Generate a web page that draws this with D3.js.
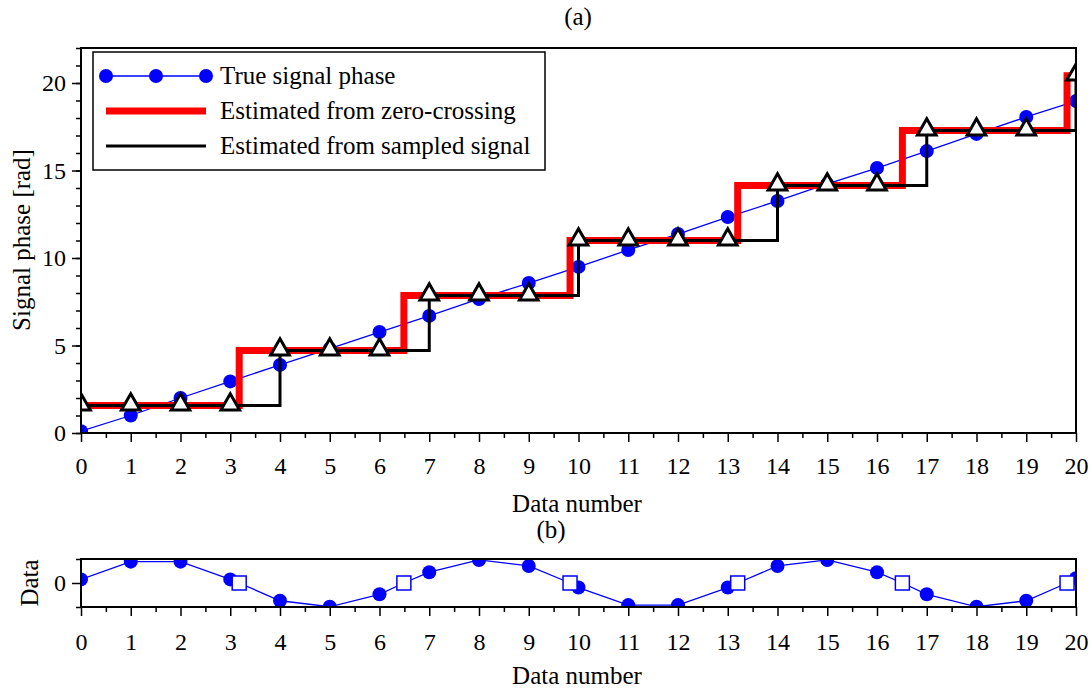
<!DOCTYPE html>
<html>
<head>
<meta charset="utf-8">
<script src="https://cdn.jsdelivr.net/npm/d3@7"></script>
<style>
  body { margin: 0; background: #fff; }
  svg { font-family: "Liberation Serif", "Times New Roman", serif; }
  .axis path { display: none; }
  .axis line { stroke: #000; stroke-width: 1.5; }
  .axis text { font-size: 24px; fill: #000; }
</style>
</head>
<body>
<div id="chart"></div>
<script>
// sample index (x axis of both panels)
var dataNumber = d3.range(0, 21);
// (a) true phase at every sample, rad
var truePhase = [0.1, 1.0, 2.0, 2.95, 3.89, 4.82, 5.77, 6.69, 7.66, 8.57, 9.49,
                 10.46, 11.37, 12.34, 13.26, 14.23, 15.14, 16.11, 17.09, 18.06, 18.97];
// zero-crossing positions (data number) and the phase levels of the steps
var zeroCross = [3.18, 6.49, 9.83, 13.2, 16.51, 19.82];
var stepLevels = [1.571, 4.712, 7.854, 10.996, 14.137, 17.279, 20.42];
// sample at which the sampled-signal estimate jumps
var sampledJump = [0, 4, 7, 10, 14, 17, 20];
// estimate from sampled signal, one value per sample (triangles)
var sampledEstimate = [1.571, 1.571, 1.571, 1.571, 4.712, 4.712, 4.712, 7.854, 7.854, 7.854,
                       10.996, 10.996, 10.996, 10.996, 14.137, 14.137, 14.137, 17.279, 17.279, 17.279, 20.42];
// (b) sampled signal values
var sampledData = [0.15, 0.89, 0.89, 0.15, -0.74, -0.99, -0.47, 0.45, 0.96, 0.71, -0.19,
                   -0.92, -0.92, -0.19, 0.71, 0.96, 0.45, -0.47, -0.99, -0.74, 0.2];

var W = 1091, H = 690;
var svg = d3.select("#chart").append("svg").attr("width", W).attr("height", H);

var x = d3.scaleLinear().domain([0, 20]).range([81, 1076]);
var yA = d3.scaleLinear().domain([0, 22]).range([433, 48]);
var yB = d3.scaleLinear().domain([-1, 1]).range([607, 559]);

function frame(y) {
  var r = y.range();
  svg.append("rect")
    .attr("x", x(0)).attr("y", r[1])
    .attr("width", x(20) - x(0)).attr("height", r[0] - r[1])
    .attr("fill", "none").attr("stroke", "#000").attr("stroke-width", 2);
}

function clip(id, y) {
  var r = y.range();
  svg.append("clipPath").attr("id", id).append("rect")
    .attr("x", x(0)).attr("y", r[1])
    .attr("width", x(20) - x(0)).attr("height", r[0] - r[1]);
}

function axisG(tr, axis) {
  svg.append("g").attr("class", "axis")
    .attr("transform", tr)
    .call(axis)
    .attr("font-family", null).attr("font-size", null);
}

function xAxis(y, pad) {
  var tr = "translate(0," + y.range()[0] + ")";
  axisG(tr, d3.axisBottom(x).tickValues(d3.range(0.5, 20, 1)).tickSize(5).tickFormat(""));
  axisG(tr, d3.axisBottom(x).tickValues(dataNumber).tickSize(9).tickPadding(pad).tickFormat(d3.format("d")));
}

// ---------- panel (a) ----------
clip("clipA", yA);

var trL = "translate(" + x(0) + ",0)";
axisG(trL, d3.axisLeft(yA).tickValues(d3.range(0, 23, 1)).tickSize(5).tickFormat(""));
axisG(trL, d3.axisLeft(yA).tickValues([0, 5, 10, 15, 20]).tickSize(9).tickPadding(6).tickFormat(d3.format("d")));
xAxis(yA, 15);

var gA = svg.append("g").attr("clip-path", "url(#clipA)");

var phaseLine = d3.line().x(function(d, i) { return x(i); }).y(function(d) { return yA(d); });
gA.append("path").datum(truePhase)
  .attr("d", phaseLine).attr("fill", "none").attr("stroke", "#0000ff").attr("stroke-width", 1.3);
gA.selectAll(".phase").data(truePhase).enter().append("circle")
  .attr("cx", function(d, i) { return x(i); }).attr("cy", function(d) { return yA(d); })
  .attr("r", 7).attr("fill", "#0000ff");

var stepLine = d3.line().curve(d3.curveStepAfter)
  .x(function(d) { return x(d[0]); }).y(function(d) { return yA(d[1]); });

var redPts = [[0, stepLevels[0]]].concat(zeroCross.map(function(c, i) { return [c, stepLevels[i + 1]]; }));
redPts.push([20, stepLevels[stepLevels.length - 1]]);
gA.append("path").datum(redPts)
  .attr("d", stepLine).attr("fill", "none").attr("stroke", "#ff0000").attr("stroke-width", 7);

var blackPts = sampledJump.map(function(s, i) { return [s, stepLevels[i]]; });
gA.append("path").datum(blackPts)
  .attr("d", stepLine).attr("fill", "none").attr("stroke", "#000").attr("stroke-width", 3);

var tri = d3.symbol().type(d3.symbolTriangle).size(150);
gA.selectAll(".tri").data(sampledEstimate).enter().append("path")
  .attr("d", tri)
  .attr("transform", function(d, i) { return "translate(" + x(i) + "," + (yA(d) - 1) + ")"; })
  .attr("fill", "#fff").attr("stroke", "#000").attr("stroke-width", 3);

frame(yA);

// legend
var lg = svg.append("g");
lg.append("rect").attr("x", 93).attr("y", 52).attr("width", 452).attr("height", 118)
  .attr("fill", "#fff").attr("stroke", "#000").attr("stroke-width", 1.5);
var legendItems = [
  { label: "True signal phase", color: "#0000ff", width: 1.3, dots: true },
  { label: "Estimated from zero-crossing", color: "#ff0000", width: 7, dots: false },
  { label: "Estimated from sampled signal", color: "#000", width: 3, dots: false }
];
legendItems.forEach(function(it, i) {
  var cy = 76 + i * 35;
  lg.append("line").attr("x1", 106).attr("x2", 206).attr("y1", cy).attr("y2", cy)
    .attr("stroke", it.color).attr("stroke-width", it.width);
  if (it.dots) {
    [106, 156, 206].forEach(function(cx) {
      lg.append("circle").attr("cx", cx).attr("cy", cy).attr("r", 7).attr("fill", it.color);
    });
  }
  lg.append("text").attr("x", 220).attr("y", cy + 8).attr("font-size", 25).text(it.label);
});

svg.append("text").attr("x", 578).attr("y", 25).attr("text-anchor", "middle")
  .attr("font-size", 25).text("(a)");
svg.append("text").attr("x", 577).attr("y", 512).attr("text-anchor", "middle")
  .attr("font-size", 25).text("Data number");
svg.append("text").attr("transform", "translate(30,240) rotate(-90)").attr("text-anchor", "middle")
  .attr("font-size", 25).text("Signal phase [rad]");

// ---------- panel (b) ----------
clip("clipB", yB);
axisG(trL, d3.axisLeft(yB).tickValues([-1, 1]).tickSize(5).tickFormat(""));
axisG(trL, d3.axisLeft(yB).tickValues([0]).tickSize(9).tickPadding(6).tickFormat(d3.format("d")));
xAxis(yB, 17);

var gB = svg.append("g").attr("clip-path", "url(#clipB)");
var samples = sampledData.map(function(v, i) { return { x: i, y: v }; });
var crosses = zeroCross.map(function(c) { return { x: c, y: 0 }; });
var all = samples.concat(crosses).sort(function(a, b) { return a.x - b.x; });

gB.append("path").datum(all)
  .attr("d", d3.line().x(function(d) { return x(d.x); }).y(function(d) { return yB(d.y); }))
  .attr("fill", "none").attr("stroke", "#0000ff").attr("stroke-width", 1.3);
gB.selectAll(".smp").data(samples).enter().append("circle")
  .attr("cx", function(d) { return x(d.x); }).attr("cy", function(d) { return yB(d.y); })
  .attr("r", 7).attr("fill", "#0000ff");
gB.selectAll(".zc").data(crosses).enter().append("rect")
  .attr("x", function(d) { return x(d.x) - 7; }).attr("y", function(d) { return yB(d.y) - 7; })
  .attr("width", 14).attr("height", 14)
  .attr("fill", "#fff").attr("stroke", "#0000ff").attr("stroke-width", 1.5);

frame(yB);

svg.append("text").attr("x", 551).attr("y", 538).attr("text-anchor", "middle")
  .attr("font-size", 25).text("(b)");
svg.append("text").attr("x", 577).attr("y", 684).attr("text-anchor", "middle")
  .attr("font-size", 25).text("Data number");
svg.append("text").attr("transform", "translate(38,583) rotate(-90)").attr("text-anchor", "middle")
  .attr("font-size", 25).text("Data");
</script>
</body>
</html>
